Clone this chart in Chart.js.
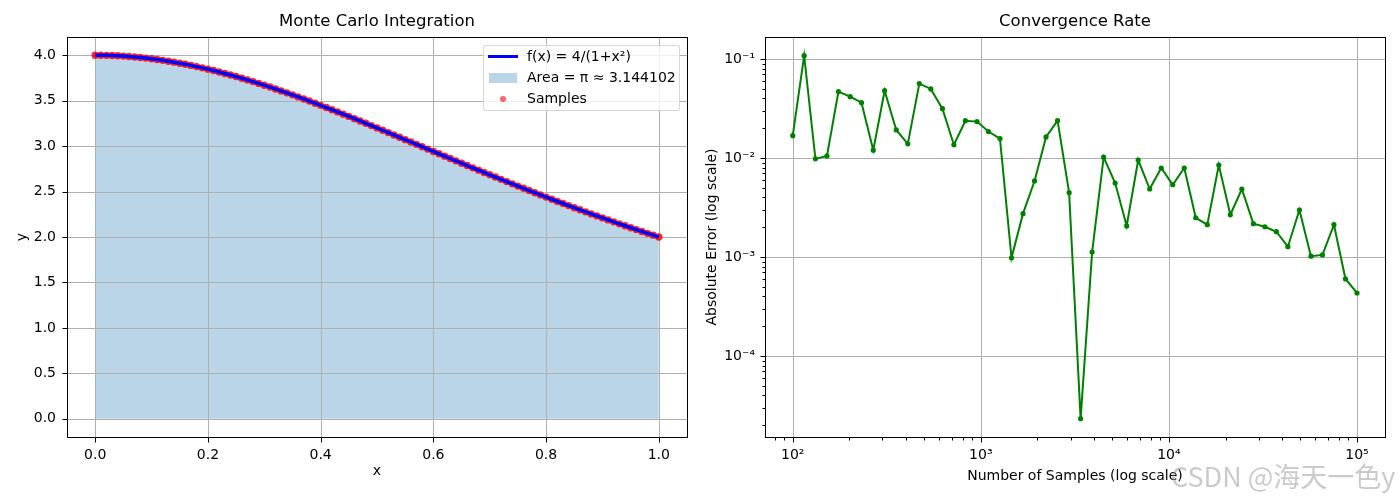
<!DOCTYPE html>
<html lang="en">
<head>
<meta charset="UTF-8" />
<title>Monte Carlo Integration</title>
<script src="https://cdn.jsdelivr.net/npm/chart.js"></script>
<style>
  body { margin: 0; background: #fff; font-family: 'DejaVu Sans', sans-serif; }
  #page { position: relative; width: 1400px; height: 500px; overflow: hidden; }
  .panel { position: absolute; top: 0; width: 700px; height: 500px; }
  #left { left: 0; }
  #right { left: 700px; }

  .legend {
    position: absolute; left: 483px; top: 45px; width: 195px; height: 64px;
    border: 1px solid rgba(204,204,204,0.8); border-radius: 3px;
    background: rgba(255,255,255,0.8);
    font-size: 14px; color: #000;
  }
  .legend .row { height: 21px; line-height: 21px; display: flex; align-items: center; white-space: nowrap; }
  .legend .key { width: 30px; margin: 0 9px 0 4px; display: inline-flex; align-items: center; justify-content: center; }
  .key.line span { display: block; width: 30px; height: 3px; background: #0000ff; }
  .key.patch span { display: block; width: 28px; height: 10px; background: #bad5e8; }
  .key.dot span { display: block; width: 6px; height: 6px; border-radius: 50%; background: rgba(255,0,0,0.6); }

  .watermark {
    position: absolute; left: 1171px; top: 456px;
    font-family: 'Noto Sans CJK SC', sans-serif; font-size: 27px;
    color: rgba(150,150,150,0.5); white-space: nowrap;
  }
</style>
</head>
<body>
<div id="page">
  <div class="panel" id="left"><canvas id="mcChart"></canvas></div>
  <div class="panel" id="right"><canvas id="convChart"></canvas></div>

  <div class="legend">
    <div class="row"><span class="key line"><span></span></span>f(x) = 4/(1+x²)</div>
    <div class="row"><span class="key patch"><span></span></span>Area = π ≈ 3.144102</div>
    <div class="row"><span class="key dot"><span></span></span>Samples</div>
  </div>

  <div class="watermark">CSDN @海天一色y</div>
</div>

<script>
  // left panel: the curve 4/(1+x^2) read at x = 0.00 .. 1.00
  const curveX = [
    0.00, 0.01, 0.02, 0.03, 0.04, 0.05, 0.06, 0.07, 0.08, 0.09,
    0.10, 0.11, 0.12, 0.13, 0.14, 0.15, 0.16, 0.17, 0.18, 0.19,
    0.20, 0.21, 0.22, 0.23, 0.24, 0.25, 0.26, 0.27, 0.28, 0.29,
    0.30, 0.31, 0.32, 0.33, 0.34, 0.35, 0.36, 0.37, 0.38, 0.39,
    0.40, 0.41, 0.42, 0.43, 0.44, 0.45, 0.46, 0.47, 0.48, 0.49,
    0.50, 0.51, 0.52, 0.53, 0.54, 0.55, 0.56, 0.57, 0.58, 0.59,
    0.60, 0.61, 0.62, 0.63, 0.64, 0.65, 0.66, 0.67, 0.68, 0.69,
    0.70, 0.71, 0.72, 0.73, 0.74, 0.75, 0.76, 0.77, 0.78, 0.79,
    0.80, 0.81, 0.82, 0.83, 0.84, 0.85, 0.86, 0.87, 0.88, 0.89,
    0.90, 0.91, 0.92, 0.93, 0.94, 0.95, 0.96, 0.97, 0.98, 0.99,
    1.00
  ];
  const curveY = [
    4.0000, 3.9996, 3.9984, 3.9964, 3.9936, 3.9900, 3.9857, 3.9805, 3.9746, 3.9678,
    3.9604, 3.9521, 3.9432, 3.9335, 3.9231, 3.9120, 3.9002, 3.8877, 3.8745, 3.8607,
    3.8462, 3.8311, 3.8153, 3.7990, 3.7821, 3.7647, 3.7467, 3.7282, 3.7092, 3.6898,
    3.6697, 3.6493, 3.6284, 3.6071, 3.5855, 3.5635, 3.5411, 3.5184, 3.4953, 3.4720,
    3.4483, 3.4244, 3.4003, 3.3759, 3.3512, 3.3264, 3.3014, 3.2762, 3.2509, 3.2256,
    3.2000, 3.1743, 3.1486, 3.1228, 3.0969, 3.0710, 3.0451, 3.0191, 2.9931, 2.9671,
    2.9412, 2.9153, 2.8893, 2.8635, 2.8377, 2.8120, 2.7863, 2.7607, 2.7352, 2.7098,
    2.6846, 2.6594, 2.6344, 2.6094, 2.5846, 2.5600, 2.5355, 2.5111, 2.4869, 2.4629,
    2.4390, 2.4153, 2.3918, 2.3684, 2.3452, 2.3222, 2.2994, 2.2767, 2.2543, 2.2320,
    2.2099, 2.1881, 2.1664, 2.1449, 2.1236, 2.1025, 2.0816, 2.0609, 2.0404, 2.0201,
    2.0000
  ];
  const leftXTicks = [0.0, 0.2, 0.4, 0.6, 0.8, 1.0];
  const leftYTicks = [0.0, 0.5, 1.0, 1.5, 2.0, 2.5, 3.0, 3.5, 4.0];

  // right panel: absolute error per sample count
  const sampleCounts = [
    100, 115, 132, 152, 175, 202, 232, 268, 308, 355,
    409, 471, 542, 625, 719, 828, 954, 1098, 1264, 1456,
    1676, 1930, 2222, 2559, 2947, 3393, 3906, 4498, 5179, 5963,
    6866, 7906, 9102, 10481, 12067, 13894, 15998, 18420, 21209, 24420,
    28117, 32374, 37275, 42919, 49417, 56898, 65512, 75431, 86851, 100000
  ];
  const absErrors = [
    0.0168, 0.108, 0.0098, 0.0105, 0.0468, 0.0416, 0.0362, 0.0120, 0.0478, 0.0192,
    0.0139, 0.0564, 0.0498, 0.0315, 0.0136, 0.0238, 0.0233, 0.0185, 0.0157, 0.00098,
    0.00274, 0.00586, 0.0163, 0.0238, 0.00446, 0.0000233, 0.00112, 0.0102, 0.00559, 0.00206,
    0.00954, 0.00486, 0.00792, 0.00537, 0.00792, 0.00249, 0.00212, 0.00849, 0.00267, 0.00486,
    0.00217, 0.00202, 0.00180, 0.00127, 0.00298, 0.00102, 0.00105, 0.00212, 0.00060, 0.000433
  ];
  const countTicks = [1e2, 1e3, 1e4, 1e5];
  const countTickLabels = ['10²', '10³', '10⁴', '10⁵'];
  const errTicks = [1e-4, 1e-3, 1e-2, 1e-1];
  const errTickLabels = ['10⁻⁴', '10⁻³', '10⁻²', '10⁻¹'];

  Chart.defaults.font.family = "'DejaVu Sans', sans-serif";
  Chart.defaults.font.size = 14;
  Chart.defaults.color = '#000';

  function isDecade(v) {
    const l = Math.log10(v);
    return Math.abs(l - Math.round(l)) < 1e-6;
  }

  // decade ticks plus the 2..9 minors in between
  function logTicks(min, max) {
    const out = [];
    for (let e = Math.floor(Math.log10(min)); e <= Math.ceil(Math.log10(max)); e++) {
      for (let m = 1; m < 10; m++) {
        const v = m * Math.pow(10, e);
        if (v >= min && v <= max) out.push({ value: v });
      }
    }
    return out;
  }

  function labelFrom(values, labels) {
    return v => {
      const i = values.findIndex(t => Math.abs(t - v) / Math.abs(t || 1) < 1e-6);
      return i >= 0 ? labels[i] : '';
    };
  }

  function drawGrid(chart, opts) {
    const { ctx, chartArea: a, scales } = chart;
    ctx.save();
    ctx.beginPath();
    ctx.rect(a.left, a.top, a.right - a.left, a.bottom - a.top);
    ctx.clip();
    ctx.strokeStyle = '#b0b0b0';
    ctx.lineWidth = 1;
    ctx.beginPath();
    scales.x.ticks.forEach(t => {
      if (opts.log && !isDecade(t.value)) return;
      const px = Math.round(scales.x.getPixelForValue(t.value)) + 0.5;
      ctx.moveTo(px, a.top); ctx.lineTo(px, a.bottom);
    });
    scales.y.ticks.forEach(t => {
      if (opts.log && !isDecade(t.value)) return;
      const py = Math.round(scales.y.getPixelForValue(t.value)) + 0.5;
      ctx.moveTo(a.left, py); ctx.lineTo(a.right, py);
    });
    ctx.stroke();
    ctx.restore();
  }

  // matplotlib-like frame, grid, tick marks and title
  const axesFrame = {
    id: 'axesFrame',
    beforeDatasetsDraw(chart, args, opts) {
      if (opts.gridAfter == null) drawGrid(chart, opts);
    },
    afterDatasetDraw(chart, args, opts) {
      if (opts.gridAfter === args.index) drawGrid(chart, opts);
    },
    afterDraw(chart, args, opts) {
      const { ctx, chartArea: a, scales } = chart;
      const L = Math.round(a.left) + 0.5, R = Math.round(a.right) + 0.5;
      const T = Math.round(a.top) + 0.5, B = Math.round(a.bottom) + 0.5;
      ctx.save();
      ctx.strokeStyle = '#000';
      ctx.lineWidth = 1;
      ctx.beginPath();
      scales.x.ticks.forEach(t => {
        const len = opts.log && !isDecade(t.value) ? 3 : 5;
        const px = Math.round(scales.x.getPixelForValue(t.value)) + 0.5;
        ctx.moveTo(px, B); ctx.lineTo(px, B + len);
      });
      scales.y.ticks.forEach(t => {
        const len = opts.log && !isDecade(t.value) ? 3 : 5;
        const py = Math.round(scales.y.getPixelForValue(t.value)) + 0.5;
        ctx.moveTo(L, py); ctx.lineTo(L - len, py);
      });
      ctx.stroke();
      ctx.strokeRect(L, T, R - L, B - T);
      ctx.fillStyle = '#000';
      ctx.font = "16.5px 'DejaVu Sans'";
      ctx.textAlign = 'center';
      ctx.textBaseline = 'middle';
      ctx.fillText(opts.title, (a.left + a.right) / 2, 22);
      ctx.restore();
    }
  };

  const curvePoints = curveX.map((x, i) => ({ x: x, y: curveY[i] }));

  new Chart(document.getElementById('mcChart'), {
    type: 'line',
    data: {
      datasets: [
        {
          label: 'f(x) = 4/(1+x²)',
          data: curvePoints,
          borderColor: '#0000ff',
          borderWidth: 3.5,
          pointRadius: 0,
          fill: false,
          tension: 0
        },
        {
          label: 'Samples',
          data: curvePoints,
          showLine: false,
          pointRadius: 3.7,
          pointBorderWidth: 0,
          pointBackgroundColor: 'rgba(255,0,0,0.85)',
          fill: false
        },
        {
          label: 'Area = π ≈ 3.144102',
          data: curvePoints,
          borderWidth: 0,
          pointRadius: 0,
          fill: 'origin',
          backgroundColor: '#bad5e8'
        }
      ]
    },
    options: {
      responsive: true,
      maintainAspectRatio: false,
      animation: false,
      layout: { padding: { top: 37, right: 13, left: 0, bottom: 0 } },
      plugins: {
        legend: { display: false },
        tooltip: { enabled: false },
        axesFrame: { title: 'Monte Carlo Integration', gridAfter: 2 }
      },
      scales: {
        x: {
          type: 'linear', min: -0.05, max: 1.05,
          afterBuildTicks: s => { s.ticks = leftXTicks.map(v => ({ value: v })); },
          afterFit: s => { s.height = 63; },
          grid: { display: false, drawTicks: false },
          border: { display: false },
          ticks: { padding: 10, autoSkip: false, maxRotation: 0, callback: v => v.toFixed(1) },
          title: { display: true, text: 'x', padding: { top: 0, bottom: 20 } }
        },
        y: {
          type: 'linear', min: -0.2, max: 4.2,
          afterBuildTicks: s => { s.ticks = leftYTicks.map(v => ({ value: v })); },
          afterFit: s => { s.width = 67; },
          grid: { display: false, drawTicks: false },
          border: { display: false },
          ticks: { padding: 11, autoSkip: false, callback: v => v.toFixed(1) },
          title: { display: true, text: 'y', padding: { top: 14, bottom: 0 } }
        }
      }
    },
    plugins: [axesFrame]
  });

  new Chart(document.getElementById('convChart'), {
    type: 'line',
    data: {
      datasets: [{
        label: 'Absolute Error',
        data: sampleCounts.map((n, i) => ({ x: n, y: absErrors[i] })),
        borderColor: '#008000',
        borderWidth: 2,
        pointRadius: 2.6,
        pointBorderWidth: 0,
        pointBackgroundColor: '#008000',
        fill: false,
        tension: 0
      }]
    },
    options: {
      responsive: true,
      maintainAspectRatio: false,
      animation: false,
      layout: { padding: { top: 37, right: 15, left: 0, bottom: 0 } },
      plugins: {
        legend: { display: false },
        tooltip: { enabled: false },
        axesFrame: { title: 'Convergence Rate', log: true }
      },
      scales: {
        x: {
          type: 'logarithmic', min: 71.2, max: 140900,
          afterBuildTicks: s => { s.ticks = logTicks(s.min, s.max); },
          afterFit: s => { s.height = 63; },
          grid: { display: false, drawTicks: false },
          border: { display: false },
          ticks: { padding: 10, autoSkip: false, maxRotation: 0, callback: labelFrom(countTicks, countTickLabels) },
          title: { display: true, text: 'Number of Samples (log scale)', padding: { top: 0, bottom: 15 } }
        },
        y: {
          type: 'logarithmic', min: 1.52e-5, max: 0.1667,
          afterBuildTicks: s => { s.ticks = logTicks(s.min, s.max); },
          afterFit: s => { s.width = 65; },
          grid: { display: false, drawTicks: false },
          border: { display: false },
          ticks: { padding: 10, autoSkip: false, callback: labelFrom(errTicks, errTickLabels) },
          title: { display: true, text: 'Absolute Error (log scale)', padding: { top: 4, bottom: 0 } }
        }
      }
    },
    plugins: [axesFrame]
  });
</script>
</body>
</html>
